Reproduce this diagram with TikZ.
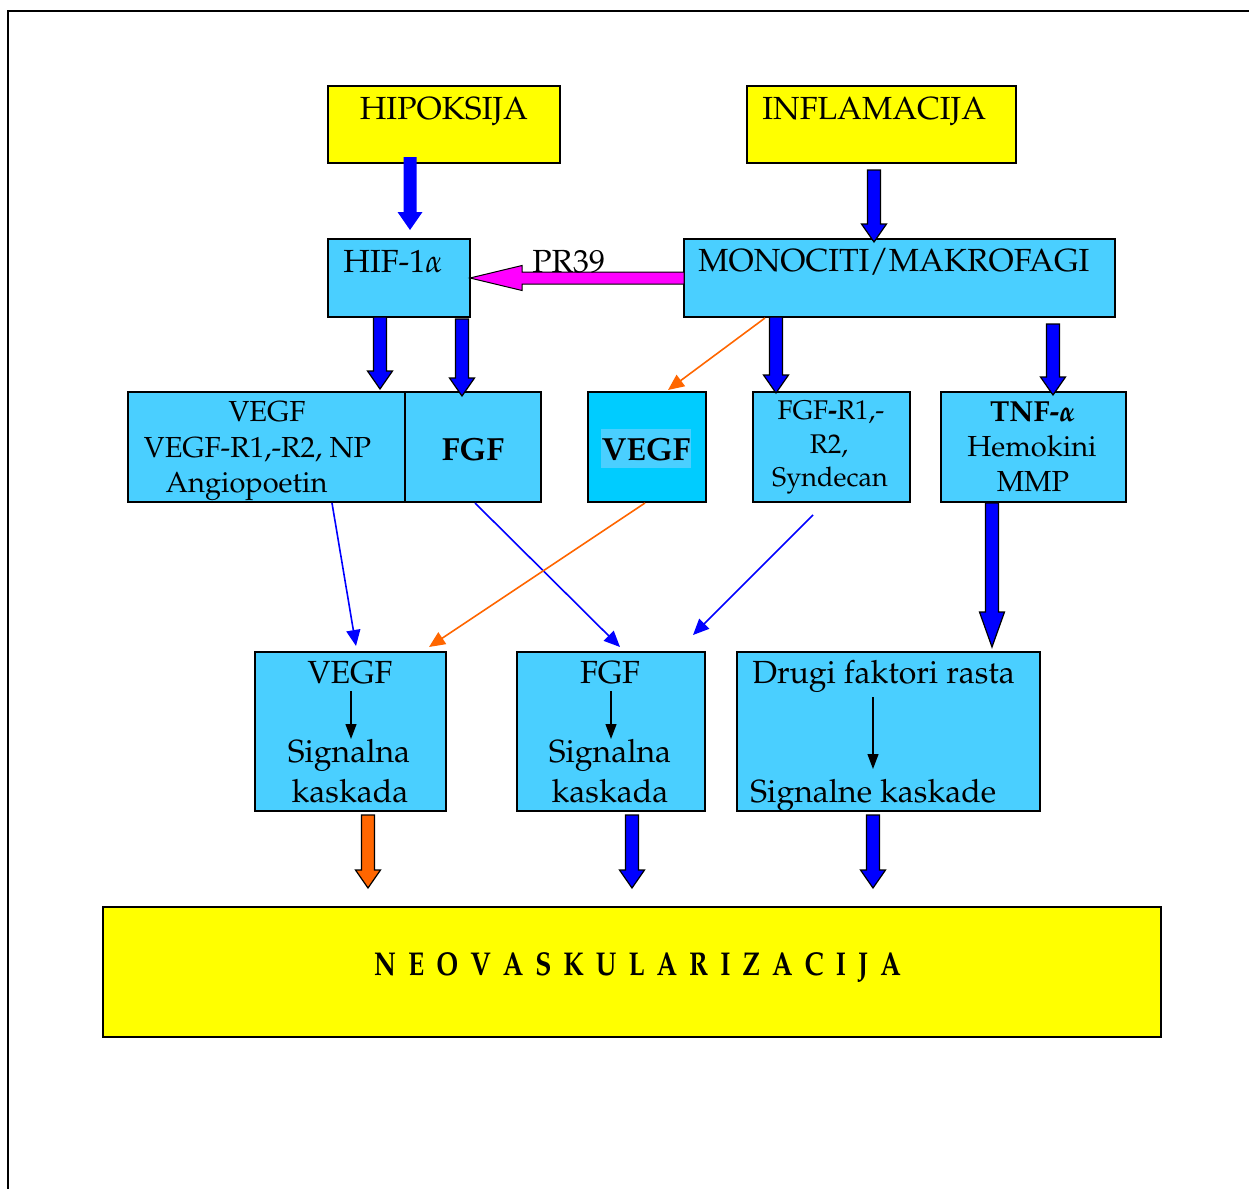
\documentclass[tikz,border=0pt]{standalone}
\usepackage[T1]{fontenc}
\usepackage{mathpazo}
\usepackage{bm}
\usetikzlibrary{arrows.meta,calc}

\definecolor{boxblue}{RGB}{74,207,255}
\definecolor{vivid}{RGB}{0,204,255}
\definecolor{sunny}{RGB}{255,255,0}
\definecolor{pureblue}{RGB}{0,0,255}
\definecolor{flame}{RGB}{255,102,0}
\definecolor{pinkish}{RGB}{255,0,255}

% vertical block arrow: [head length]{style}{start}{tip}
\newcommand\blockdown[4][9pt]{%
  \draw[#2] let \p1=(#3), \p2=(#4) in
    (\x1-3.25pt,\y1) -- (\x1+3.25pt,\y1) -- (\x1+3.25pt,\y2+#1) -- (\x1+6.25pt,\y2+#1)
    -- (\x1,\y2) -- (\x1-6.25pt,\y2+#1) -- (\x1-3.25pt,\y2+#1) -- cycle;}
% horizontal block arrow pointing left: {style}{start}{tip}
\newcommand\blockleft[3]{%
  \draw[#1] let \p1=(#2), \p2=(#3) in
    (\x1,\y2+3pt) -- (\x2+26pt,\y2+3pt) -- (\x2+26pt,\y2+6.25pt) -- (\x2,\y2)
    -- (\x2+26pt,\y2-6.25pt) -- (\x2+26pt,\y2-3pt) -- (\x1,\y2-3pt) -- cycle;}
\newcommand\gapk{\hspace{7.5pt}}

\begin{document}
\begin{tikzpicture}[x=0.5pt,y=-0.5pt,
  font=\fontsize{16}{19}\selectfont,
  box/.style={draw, line width=1pt, fill=boxblue, inner sep=0pt, outer sep=0pt},
  wd/.style={minimum width=#1*0.5pt},
  ht/.style={minimum height=#1*0.5pt},
  lbl/.style={inner sep=0pt, anchor=base},
  mid/.style={font=\fontsize{14.5}{17}\selectfont},
  smallish/.style={font=\fontsize{13.5}{16}\selectfont},
  thinarrow/.style={line width=0.8pt, -{Triangle[length=8pt,width=7pt]}},
  smallarrow/.style={line width=0.6pt, -{Triangle[length=7.5pt,width=5.5pt]}},
  block/.style={fill=pureblue, draw=black, line width=0.6pt, line join=miter},
]
\useasboundingbox (0,0) rectangle (1249,1189);
% page frame
\draw[line width=1.1pt] (8,1189) -- (8,11) -- (1249,11);

% boxes
\node[box, fill=sunny, wd=232, ht=77] (hip) at (444,124.5) {};
\node[box, fill=sunny, wd=269, ht=77] (inf) at (881.5,124.5) {};
\node[box, wd=142, ht=78] (hif) at (399,278) {};
\node[box, wd=431, ht=78] (mono) at (899.5,278) {};
\node[box, wd=277, ht=110] (vegfl) at (266.5,447) {};
\node[box, wd=136, ht=110] (fgfa) at (473,447) {};
\node[box, fill=vivid, wd=118, ht=110] (vegfb) at (647,447) {};
\node[box, wd=157, ht=110] (fgfr) at (831.5,447) {};
\node[box, wd=185, ht=110] (tnf) at (1033.5,447) {};
\node[box, wd=191, ht=159] (sigv) at (350.5,731.5) {};
\node[box, wd=188, ht=159] (sigf) at (611,731.5) {};
\node[box, wd=303, ht=159] (sigd) at (888.5,731.5) {};
\node[box, fill=sunny, wd=1058, ht=130] (neo) at (632,972) {};

% block arrows
\blockdown{fill=pureblue, draw=none}{$(hip.south)+(-34,-6)$}{$(hif.north)+(0,-9)$}
\blockdown{block}{$(inf.south)+(-7.5,7)$}{$(mono.north)+(0,3)$}
\blockdown{block}{$(hif.south)+(-19,0)$}{$(vegfl.north)+(0,-3)$}
\blockdown{block}{$(hif.south)+(63,2)$}{$(fgfa.north)+(0,4)$}
\blockdown{block}{$(mono.south)+(-123.5,0)$}{$(fgfr.north)+(0,1)$}
\blockdown{block}{$(mono.south)+(153.5,7)$}{$(tnf.north)+(0,3)$}
\blockdown[17.5pt]{block}{$(tnf.south)+(-41.5,1)$}{$(sigd.north)+(0,-5)$}
\blockdown{block, fill=flame}{$(sigv.south)+(17.5,4)$}{$(neo.north)+(0,-19)$}
\blockdown{block}{$(sigf.south)+(21,4)$}{$(neo.north)+(0,-19)$}
\blockdown{block}{$(sigd.south)+(-15.5,4)$}{$(neo.north)+(0,-19)$}
\blockleft{fill=pinkish, draw=black, line width=0.5pt, line join=miter}{mono.west}{hif.east}

% thin connectors
\draw[thinarrow, pureblue] ($(vegfl.south)+(65.5,1)$) -- ($(sigv.north)+(5.5,-6)$);
\draw[thinarrow, pureblue] ($(fgfa.south)+(2,1)$) -- ($(sigf.north)+(9,-5)$);
\draw[thinarrow, flame] ($(vegfb.south)+(-2,1)$) -- ($(sigv.north)+(78.5,-5)$);
\draw[thinarrow, pureblue] ($(fgfr.south)+(-18.5,13)$) -- ($(sigf.north)+(82,-17)$);
\draw[thinarrow, flame] ($(mono.south)+(-134.5,1)$) -- ($(vegfb.north)+(21,-2)$);

% arrows inside the signalling boxes
\draw[smallarrow] ($(sigv.north)+(0.5,39)$) -- ($(sigv.north)+(0.5,87)$);
\draw[smallarrow] ($(sigf.north)+(0,39)$) -- ($(sigf.north)+(0,87)$);
\draw[smallarrow] ($(sigd.north)+(-15.5,45)$) -- ($(sigd.north)+(-15.5,117)$);

% labels
\node[lbl] (thip) at (444,119) {HIPOKSIJA};
\node[lbl, anchor=base west] (tinf) at (762,119) {INFLAMACIJA};
\node[lbl, anchor=base west] (thif) at (343,272) {HIF-1$\alpha$};
\node[lbl, anchor=base west] (tmono) at (698,271) {MONOCITI/MAKROFAGI};
\node[lbl, anchor=base west] (tpr) at (532,272) {PR39};

\node[lbl, mid] (tl1) at (267,421) {VEGF};
\node[lbl, mid] (tl2) at (257.5,457) {VEGF-R1,-R2, NP};
\node[lbl, mid] (tl3) at (246.5,492) {Angiopoetin};
\node[lbl] (tfgf) at (473,460) {\bfseries FGF};
\node[lbl, fill=boxblue, inner xsep=0.5pt, text height=15.5pt, text depth=4pt] (tvegf) at (646,460) {\bfseries VEGF};
\node[lbl, smallish] (tr1) at (831,419) {FGF\textbf{-}R1,-};
\node[lbl, smallish] (tr2) at (829,453) {R2,};
\node[lbl, smallish] (tr3) at (830,486) {Syndecan};
\node[lbl, font=\fontsize{14.5}{17}\selectfont] (tn1) at (1033,421) {\bfseries TNF-$\bm{\alpha}$};
\node[lbl, font=\fontsize{14.5}{17}\selectfont] (tn2) at (1032,456) {Hemokini};
\node[lbl, font=\fontsize{14.5}{17}\selectfont] (tn3) at (1033,491) {MMP};

\node[lbl] (sv1) at (350,683) {VEGF};
\node[lbl] (sv2) at (349,762) {Signalna};
\node[lbl] (sv3) at (350,802) {kaskada};
\node[lbl] (sf1) at (610,683) {FGF};
\node[lbl] (sf2) at (610,762) {Signalna};
\node[lbl] (sf3) at (610,802) {kaskada};
\node[lbl, anchor=base west] (sd1) at (752,683) {Drugi faktori rasta};
\node[lbl, anchor=base west] (sd2) at (750,802) {Signalne kaskade};

\node[lbl, font=\fontsize{16.5}{19}\selectfont\bfseries] (tneo) at (637.5,975)
  {\scalebox{0.8}[1]{N\gapk E\gapk O\gapk V\gapk A\gapk S\gapk K\gapk U\gapk L\gapk A\gapk R\gapk I\gapk Z\gapk A\gapk C\gapk I\gapk J\gapk A}};
\end{tikzpicture}
\end{document}
